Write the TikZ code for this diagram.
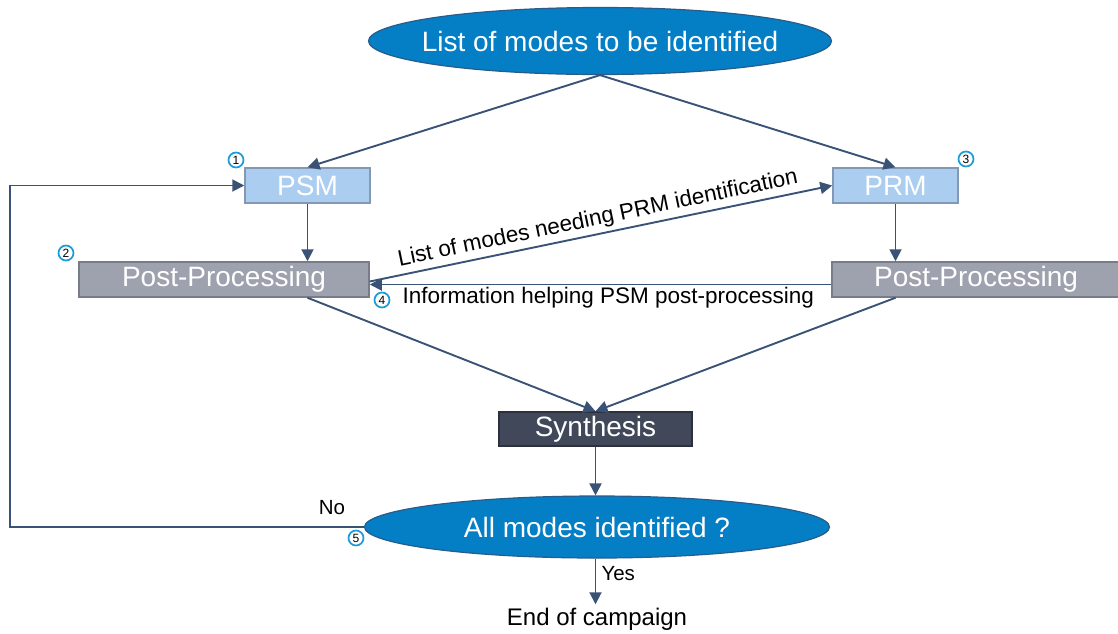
\documentclass[tikz,border=0pt]{standalone}
\usepackage{fontspec}
\setmainfont{Liberation Sans}
\usetikzlibrary{shapes.geometric,arrows.meta}
\definecolor{ellfill}{RGB}{4,126,197}
\definecolor{ellline}{RGB}{40,92,138}
\definecolor{lbfill}{RGB}{171,206,240}
\definecolor{lbline}{RGB}{130,152,180}
\definecolor{ppfill}{RGB}{158,162,174}
\definecolor{ppline}{RGB}{120,124,136}
\definecolor{synfill}{RGB}{65,72,89}
\definecolor{synline}{RGB}{45,49,60}
\definecolor{arr}{RGB}{58,82,117}
\definecolor{numc}{RGB}{27,155,215}
\tikzset{
  big/.style={font=\fontsize{28}{30}\selectfont},
  small/.style={font=\fontsize{22.5}{24}\selectfont},
  ellnode/.style={ellipse, draw=ellline, fill=ellfill, line width=1.2pt, inner xsep=-25pt, inner ysep=0pt, text=white, big},
  lbbox/.style={rectangle, draw=lbline, fill=lbfill, line width=1.5pt, minimum width=125pt, minimum height=35pt, inner sep=0pt, text=white, big},
  ppbox/.style={rectangle, draw=ppline, fill=ppfill, line width=1.5pt, minimum height=35pt, inner sep=0pt, text=white, big},
  synbox/.style={rectangle, draw=synline, fill=synfill, line width=1.5pt, minimum width=193pt, minimum height=34pt, inner sep=0pt, text=white, big},
  conn/.style={draw=arr, line width=1.9pt, -{Triangle[width=12pt,length=12pt]}},
  numb/.style={circle, draw=numc, fill=white, line width=1.7pt, minimum size=15pt, inner sep=0pt, font=\fontsize{12}{12}\selectfont},
}
\begin{document}
\begin{tikzpicture}[x=1pt,y=-1pt]
\useasboundingbox (0,0) rectangle (1118,633);
\node[ellnode, minimum width=463pt, minimum height=67pt] (top) at (600,41) {List of modes to be identified};
\node[lbbox] (psm) at (307.5,185.5) {PSM};
\node[lbbox] (prm) at (895.5,185.5) {PRM};
\node[ppbox, minimum width=290pt] (lpp) at (224,279.5) {Post-Processing};
\node[ppbox, minimum width=288pt] (rpp) at (976,279.5) {Post-Processing};
\node[synbox] (syn) at (595.5,429) {Synthesis};
\node[ellnode, minimum width=465pt, minimum height=62pt] (bot) at (597,527) {All modes identified ?};
\node[font=\fontsize{24}{26}\selectfont] (end) at (597,619) {End of campaign};

\node[numb] (n1) at (236,160) {1};
\node[numb] (n2) at (66,253) {2};
\node[numb] (n3) at (966,159) {3};
\node[numb] (n4) at (382,300) {4};
\node[numb] (n5) at (356,538) {5};

\coordinate (lc) at (10,527);

\draw[conn] (top.south) -- (psm.north);
\draw[conn] (top.south) -- (prm.north);
\draw[conn] (psm.south) -- (psm |- lpp.north);
\draw[conn] (prm.south) -- (prm |- rpp.north);
\draw[conn] ([yshift=-2pt]lpp.east) -- node[midway, sloped, above=0pt, small, text=black] {List of modes needing PRM identification} (prm.west);
\draw[conn] ([yshift=-5pt]rpp.west) -- ([yshift=-5pt]lpp.east);
\node[small, anchor=west] (info) at (399,298) {Information helping PSM post-processing};
\draw[conn] (psm |- lpp.south) -- (syn.north);
\draw[conn] (prm |- rpp.south) -- (syn.north);
\draw[conn] (syn.south) -- (syn.south |- bot.north);
\draw[conn] (bot.south -| syn.south) -- (end.north -| syn.south);
\node[font=\fontsize{20.5}{22}\selectfont, anchor=west] (yes) at (598,574) {Yes};
\draw[conn] (bot.west) -- (lc) |- (psm.west);
\node[font=\fontsize{20.5}{22}\selectfont] (no) at (332,508) {No};
\end{tikzpicture}
\end{document}
